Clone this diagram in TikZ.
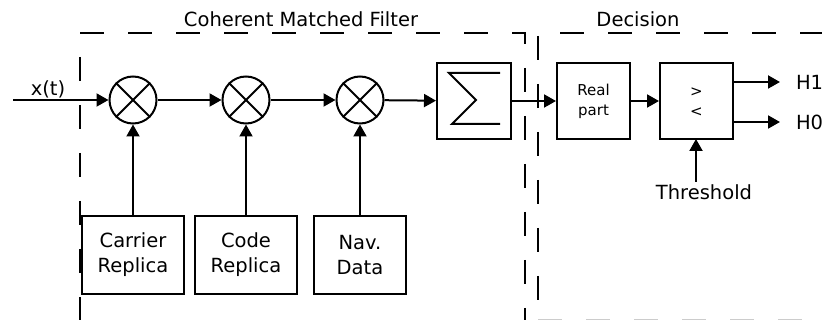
\documentclass[tikz,border=0pt]{standalone}
\usepackage{fontspec}
\setmainfont{DejaVu Sans}
\usetikzlibrary{arrows.meta}
\begin{document}
\begin{tikzpicture}[x=1pt,y=-1pt,
  line width=2pt,
  every node/.style={font=\fontsize{19.5}{25}\selectfont, inner sep=0pt},
  blk/.style={draw, rectangle, line width=2pt},
  mult/.style={draw, circle, minimum size=47pt, line width=2pt},
  arr/.style={-{Triangle[length=12pt,width=13pt]}},
  region/.style={draw, line width=2pt, dash pattern=on 24pt off 24pt},
  small/.style={font=\fontsize{15}{20}\selectfont}
]
\useasboundingbox (0,0) rectangle (822,320);
% regions
\draw[region] (80,33) -- (525,33) -- (525,340);
\draw[region, dash phase=24pt] (80,33) -- (80,340);
\draw[region] (538,36) -- (538,340);
\draw[region] (560,33) -- (860,33);
\draw[region, draw=black!20] (538,320) -- (860,320);
\node (t1) at (301,19) {Coherent Matched Filter};
\node (t2) at (638,19) {Decision};
% multipliers
\node[mult] (m1) at (133,100) {};
\node[mult] (m2) at (246,100) {};
\node[mult] (m3) at (360,100) {};
\foreach \m in {m1,m2,m3}{
  \draw (\m.north west) -- (\m.south east);
  \draw (\m.north east) -- (\m.south west);
}
% input
\coordinate (in) at (13,100);
\node (xt) at (48,89) {x(t)};
\draw[arr] (in) -- (m1);
\draw[arr] (m1) -- (m2);
\draw[arr] (m2) -- (m3);
% sum
\node[blk, minimum width=74pt, minimum height=76pt] (sum) at (474,101) {};
\draw[line width=2pt] (500,73) -- (449,73) -- (476,100) -- (452,124) -- (500,124);
\draw[arr] (m3) -- (sum);
% real part
\node[blk, minimum width=73pt, minimum height=76pt, small, align=center] (re) at (593.5,101) {Real\\part};
\draw[arr] (sum) -- (re);
% comparator
\node[blk, minimum width=73pt, minimum height=76pt] (cmp) at (696.5,101) {};
\node[small] (gt) at (696.5,92) {>};
\node[small] (lt) at (696.5,112) {<};
\draw[arr] (re) -- (cmp);
\coordinate (h1e) at (780,82);
\coordinate (h0e) at (780,122);
\draw[arr] (cmp.east |- h1e) -- (h1e);
\draw[arr] (cmp.east |- h0e) -- (h0e);
\node[anchor=west] (h1) at (795,82) {H1};
\node[anchor=west] (h0) at (795,122) {H0};
% threshold
\node (th) at (704,192) {Threshold};
\draw[arr] (696,182) -- (696,139);
% replicas
\node[blk, minimum width=102pt, minimum height=78pt, align=center] (car) at (133,255) {Carrier\\Replica};
\node[blk, minimum width=102pt, minimum height=78pt, align=center] (cod) at (246,255) {Code\\Replica};
\node[blk, minimum width=92pt, minimum height=78pt, align=center] (nav) at (360,255) {Nav.\\Data};
\draw[arr] (car) -- (m1);
\draw[arr] (cod) -- (m2);
\draw[arr] (nav) -- (m3);
\end{tikzpicture}
\end{document}
